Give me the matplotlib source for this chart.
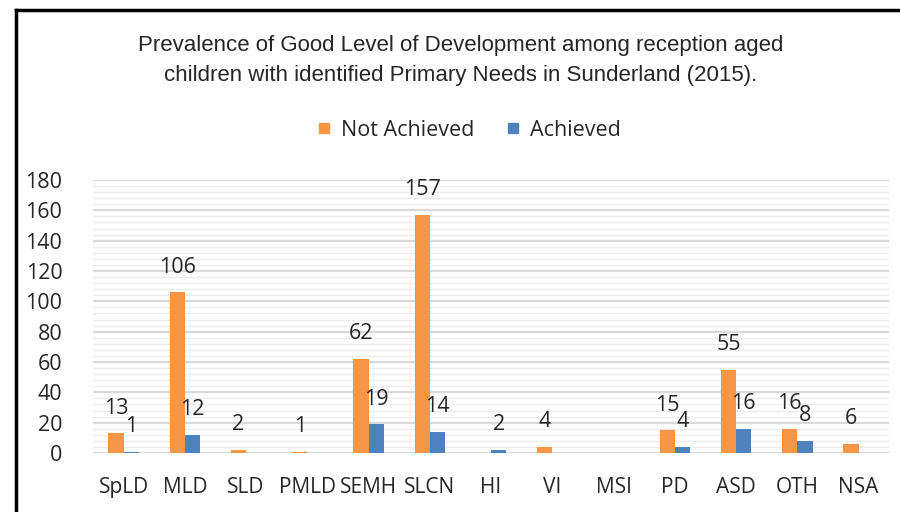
import numpy as np
import matplotlib
matplotlib.use("Agg")
import matplotlib.pyplot as plt
from matplotlib.ticker import MultipleLocator
from matplotlib.lines import Line2D

categories = ['SpLD', 'MLD', 'SLD', 'PMLD', 'SEMH', 'SLCN', 'HI', 'VI', 'MSI', 'PD', 'ASD', 'OTH', 'NSA']
not_achieved = [13, 106, 2, 1, 62, 157, 0, 4, 0, 15, 55, 16, 6]
achieved = [1, 12, 0, 0, 19, 14, 2, 0, 0, 4, 16, 8, 0]

orange = '#F79646'
blue = '#4F81BD'
tick_font = ['Open Sans', 'DejaVu Sans']
title_font = ['Liberation Sans Narrow', 'Liberation Sans', 'DejaVu Sans']

fig = plt.figure(figsize=(9, 5.12), dpi=100)
ax = fig.add_axes([0.1033, 0.1152, 0.8847, 0.5332])

x = np.arange(len(categories))
w = 0.25
b1 = ax.bar(x - w / 2, not_achieved, w, color=orange, label='Not Achieved', zorder=3)
b2 = ax.bar(x + w / 2, achieved, w, color=blue, label='Achieved', zorder=3)

for bars, vals in ((b1, not_achieved), (b2, achieved)):
    for r, v in zip(bars, vals):
        if v == 0:
            continue
        ax.annotate(str(v), (r.get_x() + r.get_width() / 2, v), xytext=(0, 18),
                    textcoords='offset points', ha='center', va='center',
                    fontsize=15.5, family=tick_font, color='#262626')

ax.set_xlim(-0.5, len(categories) - 0.5)
ax.set_ylim(0, 180)
ax.yaxis.set_major_locator(MultipleLocator(20))
ax.yaxis.set_minor_locator(MultipleLocator(4))
ax.grid(which='major', axis='y', color='#D9D9D9', linewidth=1.6, zorder=0)
ax.grid(which='minor', axis='y', color='#EDEDED', linewidth=1.0, zorder=0)
ax.set_xticks(x)
ax.set_xticklabels(categories, family=tick_font, fontsize=15, color='#262626')
for lbl in ax.get_yticklabels():
    lbl.set_family(tick_font)
ax.tick_params(axis='y', labelsize=15.5, labelcolor='#262626', length=0, pad=22, which='both')
ax.tick_params(axis='x', length=0, pad=17)
for s in ax.spines.values():
    s.set_visible(False)

fig.text(0.512, 0.912, 'Prevalence of Good Level of Development among reception aged',
         ha='center', va='center', fontsize=16, family=title_font, color='#262626')
fig.text(0.512, 0.853, 'children with identified Primary Needs in Sunderland (2015).',
         ha='center', va='center', fontsize=16, family=title_font, color='#262626')

handles = [Line2D([], [], marker='s', linestyle='none', markersize=7.5, color=orange),
           Line2D([], [], marker='s', linestyle='none', markersize=7.5, color=blue)]
fig.legend(handles, ['Not Achieved', 'Achieved'], loc='center', bbox_to_anchor=(0.52, 0.746),
           ncol=2, frameon=False, prop={'family': tick_font, 'size': 15.5},
           handlelength=0.8, handletextpad=0.4, columnspacing=1.4, labelcolor='#262626')

# frame lines (top and left)
fig.add_artist(Line2D([16 / 900, 1], [1 - 10 / 512, 1 - 10 / 512], color='black', linewidth=2.5, transform=fig.transFigure))
fig.add_artist(Line2D([16 / 900, 16 / 900], [0, 1 - 10 / 512], color='black', linewidth=2.5, transform=fig.transFigure))

fig.savefig('out.png', dpi=100, facecolor='white')
